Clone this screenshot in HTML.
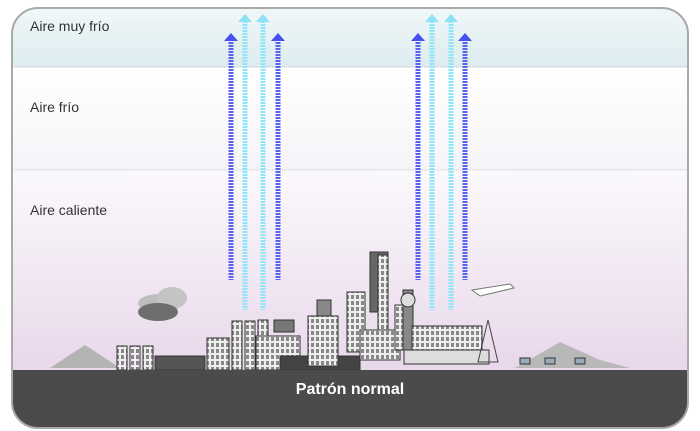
<!DOCTYPE html>
<html><head><meta charset="utf-8"><style>
html,body{margin:0;padding:0;background:#fff;width:700px;height:431px;overflow:hidden}
svg{display:block}
text{font-family:"Liberation Sans",sans-serif}
</style></head><body>
<svg id="s" width="700" height="431" viewBox="0 0 700 431">
<defs>
<linearGradient id="gTop" x1="0" y1="0" x2="0" y2="1"><stop offset="0" stop-color="#f4f9fa"/><stop offset="1" stop-color="#dcecef"/></linearGradient>
<linearGradient id="gMid" x1="0" y1="0" x2="0" y2="1"><stop offset="0" stop-color="#ffffff"/><stop offset="1" stop-color="#f5f4f8"/></linearGradient>
<linearGradient id="gLow" x1="0" y1="0" x2="0" y2="1"><stop offset="0" stop-color="#fbf9fc"/><stop offset="1" stop-color="#e8d8ea"/></linearGradient>
<clipPath id="frame"><rect x="12" y="8" width="676" height="420" rx="26"/></clipPath>
<pattern id="dashDark" width="4" height="3" patternUnits="userSpaceOnUse"><rect width="4" height="2" fill="#5a63f0"/></pattern>
<pattern id="dashLight" width="4" height="3" patternUnits="userSpaceOnUse"><rect width="4" height="2" fill="#8ee6f7"/></pattern>
<pattern id="win" width="5" height="6" patternUnits="userSpaceOnUse"><rect width="5" height="6" fill="#eee"/><rect x="1" y="1" width="3" height="4" fill="#888"/></pattern>
</defs>
<g clip-path="url(#frame)">
<rect x="0" y="0" width="700" height="67" fill="url(#gTop)"/>
<rect x="0" y="67" width="700" height="103" fill="url(#gMid)"/>
<rect x="0" y="170" width="700" height="200" fill="url(#gLow)"/>
<line x1="0" y1="67" x2="700" y2="67" stroke="#bdbdbd" stroke-dasharray="1 1"/>
<line x1="0" y1="170" x2="700" y2="170" stroke="#c4c4c4" stroke-dasharray="1 1"/>
<g id="arrows"></g>
<g id="city"></g>
<rect x="0" y="370" width="700" height="70" fill="#4b4b4b"/>
</g>
<rect x="12" y="8" width="676" height="420" rx="26" fill="none" stroke="#a9a9a9" stroke-width="2"/>
<text x="30" y="31" font-size="14" fill="#333">Aire muy frío</text>
<text x="30" y="112" font-size="14" fill="#333">Aire frío</text>
<text x="30" y="215" font-size="14" fill="#333">Aire caliente</text>
<text x="350" y="394" font-size="16" font-weight="bold" fill="#fff" text-anchor="middle">Patrón normal</text>
</svg>
<script>
const arrowX=[231,245,263,278,418,432,451,465];
const arrowTop=[33,14,14,33,33,14,14,33];
const arrowBottom=[280,310,310,280,280,310,310,280];
const arrowKind=["dark","light","light","dark","dark","light","light","dark"];
const NS="http://www.w3.org/2000/svg";
const ag=document.getElementById("arrows");
function mk(t,a,p){const e=document.createElementNS(NS,t);for(const k in a)e.setAttribute(k,a[k]);p.appendChild(e);return e;}
arrowX.forEach((x,i)=>{
  const dark=arrowKind[i]==="dark";
  const g=mk("g",{},ag);
  
  
  mk("rect",{x:x-2.5,y:arrowTop[i]+8,width:5,height:arrowBottom[i]-arrowTop[i]-8,fill:dark?"url(#dashDark)":"url(#dashLight)"},g);
  mk("polygon",{points:`${x-7},${arrowTop[i]+8} ${x+7},${arrowTop[i]+8} ${x},${arrowTop[i]}`,fill:dark?"#4650ee":"#8ee2f5"},g);
});
const city=document.getElementById("city");
mk("polygon",{points:"50,368 85,345 120,368",fill:"#b3b3b3"},city);
mk("polygon",{points:"515,368 560,342 600,360 630,368",fill:"#b8b8b8"},city);
mk("ellipse",{cx:160,cy:303,rx:22,ry:9,fill:"#bdbdbd"},city);
mk("ellipse",{cx:172,cy:298,rx:15,ry:11,fill:"#c4c4c4"},city);
mk("ellipse",{cx:158,cy:312,rx:20,ry:9,fill:"#6e6e6e"},city);
mk("path",{d:"M472,290 L510,284 L514,288 L480,296 Z",fill:"#fff",stroke:"#777"},city);
const B=[[117,346,10,24,"url(#win)"],[130,346,10,24,"url(#win)"],[143,346,10,24,"url(#win)"],[155,356,50,14,"#555"],[207,338,22,32,"url(#win)"],[232,321,10,49,"url(#win)"],[245,321,10,49,"url(#win)"],[258,320,10,50,"url(#win)"],[256,336,44,34,"url(#win)"],[274,320,20,12,"#777"],[280,356,80,14,"#444"],[308,316,30,50,"url(#win)"],[317,300,14,16,"#888"],[347,292,18,60,"url(#win)"],[370,252,18,60,"#666"],[378,255,10,80,"url(#win)"],[360,330,40,30,"url(#win)"],[395,305,10,45,"url(#win)"],[403,290,10,60,"#888"],[412,326,70,25,"url(#win)"],[404,350,85,14,"#ddd"],[575,358,10,6,"#9ab"],[545,358,10,6,"#9ab"],[520,358,10,6,"#9ab"]];
B.forEach(b=>{const r=mk("rect",{x:b[0],y:b[1],width:b[2],height:b[3],fill:b[4],stroke:"#333","stroke-width":1},city);

});
mk("circle",{cx:408,cy:300,r:7,fill:"#ddd",stroke:"#333"},city);
mk("polygon",{points:"478,362 488,320 498,362",fill:"none",stroke:"#444"},city);
</script>
</body></html>
